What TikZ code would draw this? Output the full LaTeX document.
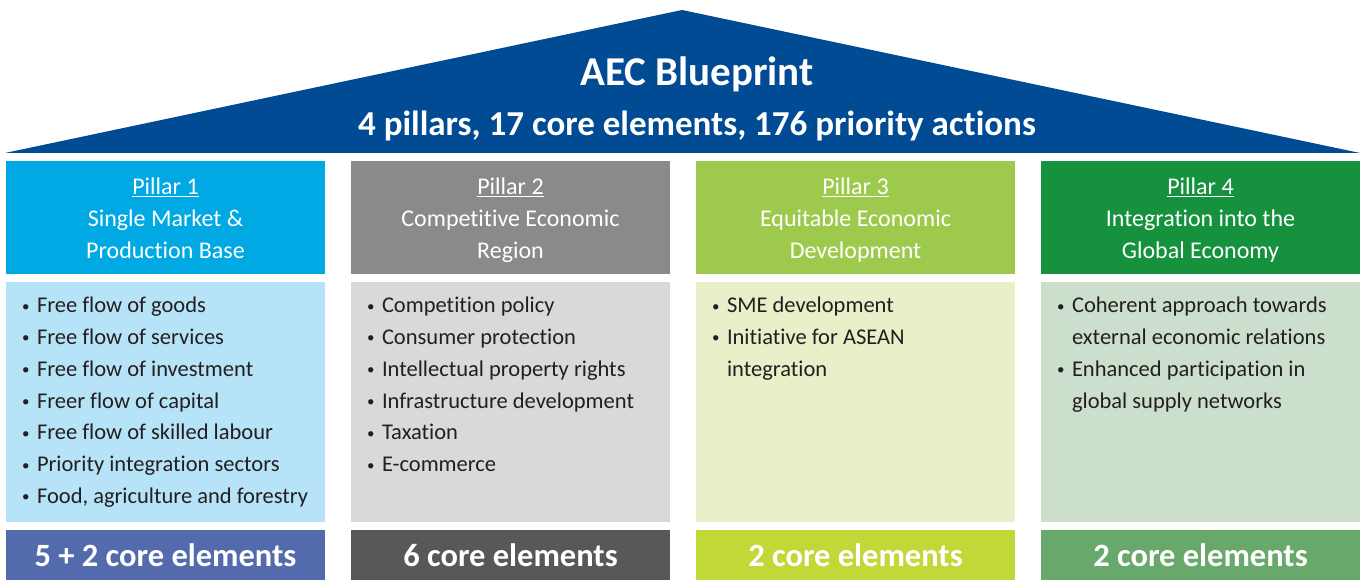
\documentclass[tikz,border=0pt]{standalone}
\usepackage{fontspec}
\setmainfont{Carlito}[Ligatures={NoCommon}]
\usetikzlibrary{positioning}

\definecolor{roofblue}{HTML}{004B93}
\definecolor{bodytext}{HTML}{231F20}
\definecolor{headA}{HTML}{00A8E4}
\definecolor{listA}{HTML}{B7E3F8}
\definecolor{countA}{HTML}{536AAC}
\definecolor{headB}{HTML}{8A8A8C}
\definecolor{listB}{HTML}{D9D9D9}
\definecolor{countB}{HTML}{58585A}
\definecolor{headC}{HTML}{9DCA4C}
\definecolor{listC}{HTML}{E7F0C8}
\definecolor{countC}{HTML}{C2D838}
\definecolor{headD}{HTML}{16923E}
\definecolor{listD}{HTML}{CCDFCC}
\definecolor{countD}{HTML}{69A86B}

\newcommand{\bul}[1]{\makebox[16pt][l]{\hspace{1pt}\raisebox{1.5pt}{\fontsize{15}{15}\selectfont\textbullet}}#1}
\newcommand{\cont}[1]{\hspace*{16pt}#1}
\newcommand{\topline}{\rule{0pt}{28.4pt}}

\begin{document}
\begin{tikzpicture}[x=1pt, y=1pt, on grid, node distance = 345pt,
        head/.style  = {minimum width=319pt, minimum height=113pt, inner sep=0pt, text=white,
                        align=center, font=\fontsize{24}{32}\selectfont},
        list/.style  = {minimum width=319pt, minimum height=240pt, inner sep=0pt},
        items/.style = {anchor=north west, align=left, inner sep=0pt, text=bodytext,
                        xshift=15pt, yshift=-15pt, font=\fontsize{22.5}{31.8}\selectfont},
        count/.style = {minimum width=319pt, minimum height=50pt, inner sep=0pt, text=white,
                        font=\bfseries\fontsize{32.5}{34}\selectfont}]
    \useasboundingbox (0,0) rectangle (1365,580);

    % roof
    \fill[roofblue] (5,427) -- (682,570) -- (1360,427) -- cycle;
    \node[text=white, font=\bfseries\fontsize{41}{44}\selectfont] (title) at (697,506) {AEC Blueprint};
    \node[text=white, font=\bfseries\fontsize{35}{38}\selectfont] (sub)   at (697,454) {4 pillars, 17 core elements, 176 priority actions};

    % pillar heads
    \node[head, fill=headA]                 (h1) at (165.5,362.5) {\topline\underline{Pillar 1}\\Single Market \&\\Production Base\strut};
    \node[head, fill=headB, right of = h1]  (h2) {\topline\underline{Pillar 2}\\Competitive Economic\\Region\strut};
    \node[head, fill=headC, right of = h2]  (h3) {\topline\underline{Pillar 3}\\Equitable Economic\\Development\strut};
    \node[head, fill=headD, right of = h3]  (h4) {\topline\underline{Pillar 4}\\Integration into the\\Global Economy\strut};

    % core element lists
    \node[list, fill=listA, below = 184.5pt of h1] (l1) {};
    \node[list, fill=listB, below = 184.5pt of h2] (l2) {};
    \node[list, fill=listC, below = 184.5pt of h3] (l3) {};
    \node[list, fill=listD, below = 184.5pt of h4] (l4) {};

    \node[items] (t1) at (l1.north west) {\bul{Free flow of goods}\\\bul{Free flow of services}\\\bul{Free flow of investment}\\
        \bul{Freer flow of capital}\\\bul{Free flow of skilled labour}\\\bul{Priority integration sectors}\\\bul{Food, agriculture and forestry}};
    \node[items] (t2) at (l2.north west) {\bul{Competition policy}\\\bul{Consumer protection}\\\bul{Intellectual property rights}\\
        \bul{Infrastructure development}\\\bul{Taxation}\\\bul{E-commerce}};
    \node[items] (t3) at (l3.north west) {\bul{SME development}\\\bul{Initiative for ASEAN}\\\cont{integration}};
    \node[items] (t4) at (l4.north west) {\bul{Coherent approach towards}\\\cont{external economic relations}\\
        \bul{Enhanced participation in}\\\cont{global supply networks}};

    % counts
    \node[count, fill=countA, below = 153pt of l1] (c1) {5 + 2 core elements};
    \node[count, fill=countB, below = 153pt of l2] (c2) {6 core elements};
    \node[count, fill=countC, below = 153pt of l3] (c3) {2 core elements};
    \node[count, fill=countD, below = 153pt of l4] (c4) {2 core elements};
\end{tikzpicture}
\end{document}
